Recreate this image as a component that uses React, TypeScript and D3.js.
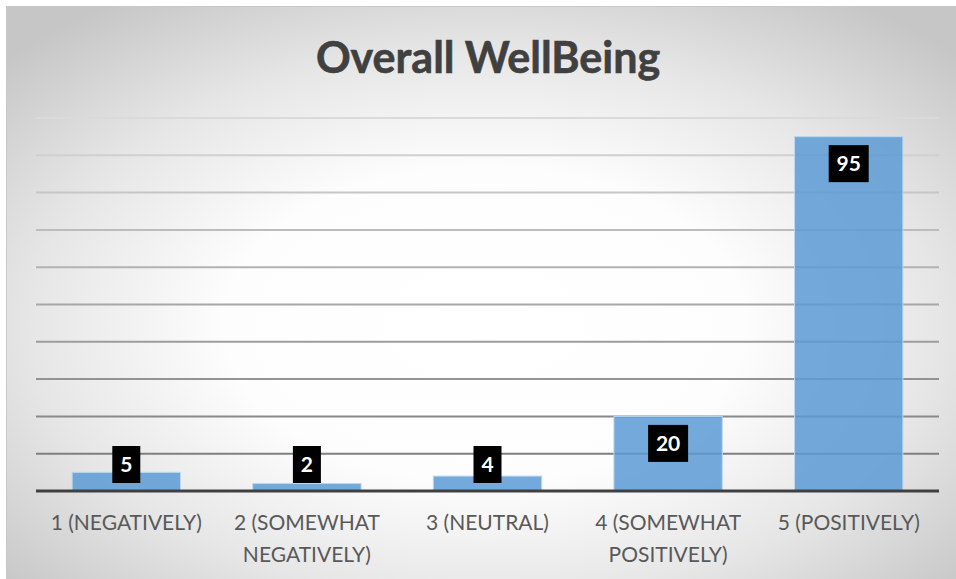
import React from "react";
import * as d3 from "d3";

const categories = [
  ["1 (NEGATIVELY)"],
  ["2 (SOMEWHAT", "NEGATIVELY)"],
  ["3 (NEUTRAL)"],
  ["4 (SOMEWHAT", "POSITIVELY)"],
  ["5 (POSITIVELY)"],
];
const values = [5, 2, 4, 20, 95];
const yTicks = [0, 10, 20, 30, 40, 50, 60, 70, 80, 90, 100];
const title = "Overall WellBeing";

const W = 956;
const H = 579;
const plotLeft = 36;
const plotRight = 939;
const plotTop = 118;
const plotBottom = 491;

export default function App() {
  const x = d3
    .scaleBand<number>()
    .domain(d3.range(values.length))
    .range([plotLeft, plotRight])
    .paddingInner(0.4)
    .paddingOuter(0.2);
  const y = d3.scaleLinear().domain([0, 100]).range([plotBottom, plotTop]);
  const gridColor = d3.interpolateRgb("#dadada", "#7f7f7f");

  return (
    <svg
      width={W}
      height={H}
      style={{ position: "absolute", left: 0, top: 0, display: "block" }}
    >
      <defs>
        <radialGradient id="bg" cx="0.5" cy="0.55" r="0.68" fx="0.5" fy="0.55">
          <stop offset="0" stopColor="#ffffff" />
          <stop offset="0.4" stopColor="#fdfdfd" />
          <stop offset="0.7" stopColor="#e6e6e6" />
          <stop offset="1" stopColor="#c6c6c6" />
        </radialGradient>
      </defs>
      <rect x={0} y={0} width={W} height={H} fill="#ffffff" />
      <rect x={6.5} y={6.5} width={W} height={H} fill="url(#bg)" stroke="#c8c8c8" strokeWidth={1} />
      <text
        x={488}
        y={73}
        textAnchor="middle"
        fontFamily="Lato, 'Open Sans', sans-serif"
        fontWeight={700}
        fontSize={43}
        fill="#404040"
        stroke="#404040"
        strokeWidth={0.6}
      >
        {title}
      </text>
      {yTicks.slice(1).map((t, i) => (
        <line
          key={t}
          x1={plotLeft}
          x2={plotRight}
          y1={y(t)}
          y2={y(t)}
          stroke={gridColor(1 - i / (yTicks.length - 2))}
          strokeWidth={2}
        />
      ))}
      {values.map((v, i) => (
        <rect
          key={i}
          x={x(i)}
          y={y(v)}
          width={x.bandwidth()}
          height={plotBottom - y(v)}
          fill="#5b9bd5"
          fillOpacity={0.85}
          stroke="#bdd7ee"
          strokeWidth={1}
        />
      ))}
      <line
        x1={plotLeft}
        x2={plotRight}
        y1={plotBottom}
        y2={plotBottom}
        stroke="#404040"
        strokeWidth={3}
      />
      {values.map((v, i) => {
        const cx = (x(i) as number) + x.bandwidth() / 2;
        const cy = Math.min(y(v) + 27, plotBottom - 26.5);
        const label = String(v);
        const bw = label.length > 1 ? 40 : 28;
        return (
          <g key={i}>
            <rect x={cx - bw / 2} y={cy - 18.5} width={bw} height={37} fill="#000000" />
            <text
              x={cx}
              y={cy + 7.5}
              textAnchor="middle"
              fontFamily="Lato, 'Open Sans', sans-serif"
              fontWeight={700}
              fontSize={21}
              fill="#ffffff"
            >
              {label}
            </text>
          </g>
        );
      })}
      {categories.map((lines, i) => {
        const cx = (x(i) as number) + x.bandwidth() / 2;
        return (
          <text
            key={i}
            textAnchor="middle"
            fontFamily="Lato, 'Open Sans', sans-serif"
            fontSize={21}
            fill="#595959"
          >
            {lines.map((l, j) => (
              <tspan key={j} x={cx} y={530 + j * 32}>
                {l}
              </tspan>
            ))}
          </text>
        );
      })}
    </svg>
  );
}
